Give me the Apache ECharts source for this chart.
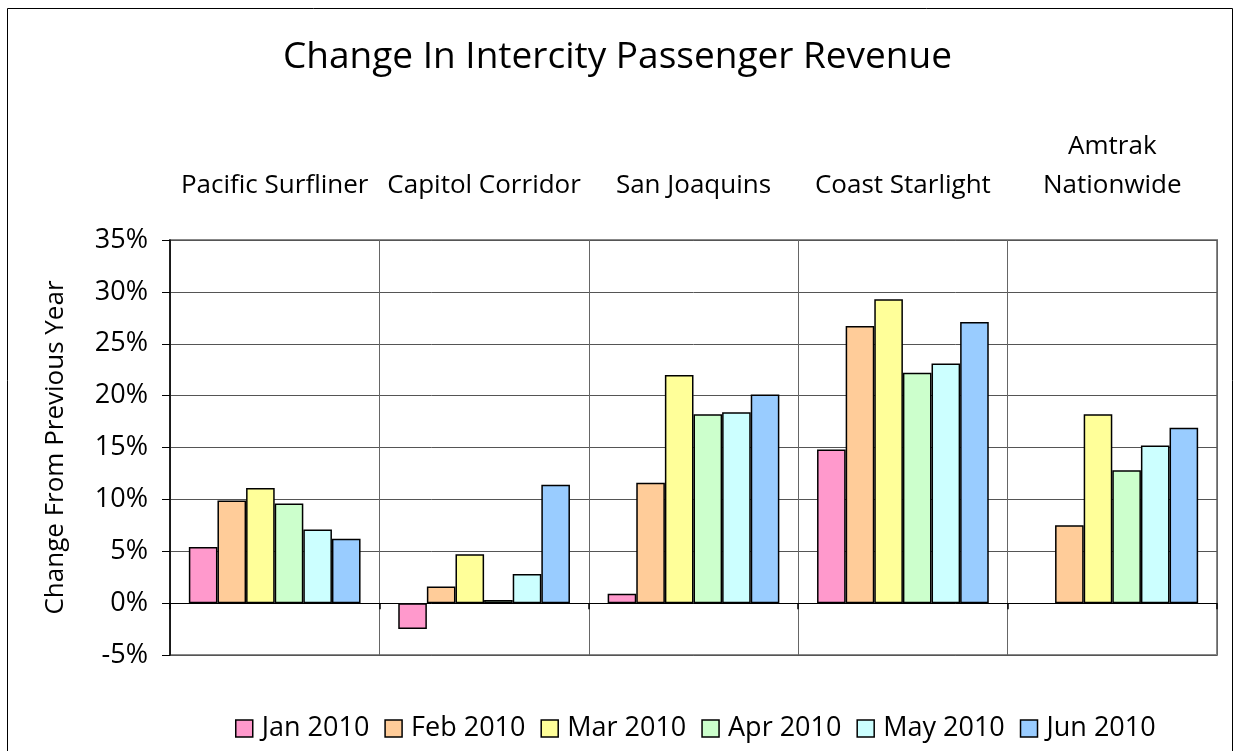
<!DOCTYPE html>
<html>
<head>
<meta charset="utf-8">
<script src="https://cdn.jsdelivr.net/npm/echarts@6/dist/echarts.min.js"></script>
<style>
  html, body { margin: 0; padding: 0; background: #fff; }
  #main { width: 1235px; height: 751px; }
</style>
</head>
<body>
<div id="main"></div>
<script>
// 数据
var categories = ['Pacific Surfliner', 'Capitol Corridor', 'San Joaquins', 'Coast Starlight', 'Amtrak\nNationwide'];
var months = ['Jan 2010', 'Feb 2010', 'Mar 2010', 'Apr 2010', 'May 2010', 'Jun 2010'];
var jan2010 = [5.4, -2.5, 0.9, 14.8, null];
var feb2010 = [9.9, 1.6, 11.6, 26.7, 7.5];
var mar2010 = [11.1, 4.7, 22.0, 29.3, 18.2];
var apr2010 = [9.6, 0.3, 18.2, 22.2, 12.8];
var may2010 = [7.1, 2.8, 18.4, 23.1, 15.2];
var jun2010 = [6.2, 11.4, 20.1, 27.1, 16.9];
var colors = ['#FF99CC', '#FFCC99', '#FFFF99', '#CCFFCC', '#CCFFFF', '#99CCFF'];

var font = 'Open Sans';
var myChart = echarts.init(document.getElementById('main'));

var seriesData = [jan2010, feb2010, mar2010, apr2010, may2010, jun2010];
var series = [];
for (var i = 0; i < months.length; i++) {
    series.push({
        name: months[i],
        type: 'bar',
        data: seriesData[i],
        barGap: '0%',
        barCategoryGap: '18%',
        itemStyle: { color: colors[i], borderColor: '#000', borderWidth: 1.5 }
    });
}

var option = {
    animation: false,
    color: colors,
    graphic: [{
        type: 'rect',
        shape: { x: 7.5, y: 8.5, width: 1225, height: 800 },
        style: { fill: 'none', stroke: '#000', lineWidth: 1 },
        silent: true
    }, {
        // 绘图区外框
        type: 'rect',
        shape: { x: 170, y: 240, width: 1047, height: 415 },
        style: { fill: 'none', stroke: '#888', lineWidth: 2 },
        silent: true,
        z: -1
    }],
    title: {
        text: 'Change In Intercity Passenger Revenue',
        left: 'center',
        top: 34,
        textStyle: { fontFamily: font, fontSize: 37, fontWeight: 'normal', color: '#000' }
    },
    legend: {
        data: months,
        bottom: 4,
        left: 230,
        icon: 'rect',
        itemWidth: 17,
        itemHeight: 17,
        itemGap: 15,
        itemStyle: { borderColor: '#000', borderWidth: 1.5 },
        textStyle: { fontFamily: font, fontSize: 27, color: '#000', padding: [0, 0, 0, 4] }
    },
    grid: { left: 170, right: 18, top: 240, bottom: 96 },
    xAxis: [{
        type: 'category',
        data: categories,
        position: 'top',
        axisLine: { show: false, onZero: false },
        axisTick: { show: false },
        axisLabel: {
            interval: 0,
            fontFamily: font, fontSize: 26, color: '#000',
            margin: 35, lineHeight: 39, verticalAlign: 'bottom'
        },
        splitLine: { show: true, interval: 0, lineStyle: { color: '#666', width: 1 } }
    }, {
        // 0% 处的横轴线
        type: 'category',
        data: categories,
        position: 'bottom',
        axisLine: { onZero: true, onZeroAxisIndex: 0, lineStyle: { color: '#000', width: 1 } },
        axisTick: { show: true, interval: 0, length: 6, lineStyle: { color: '#000', width: 1.5 } },
        axisLabel: { show: false },
        splitLine: { show: false }
    }],
    yAxis: {
        type: 'value',
        min: -5,
        max: 35,
        interval: 5,
        name: 'Change From Previous Year',
        nameLocation: 'middle',
        nameGap: 101,
        nameTextStyle: { fontFamily: font, fontSize: 26, color: '#000' },
        axisLine: { show: true, onZero: false, lineStyle: { color: '#000', width: 1.5 } },
        axisTick: { show: true, length: 8, lineStyle: { color: '#000' } },
        axisLabel: { formatter: '{value}%', fontFamily: font, fontSize: 27, color: '#000', margin: 22 },
        splitLine: { show: true, lineStyle: { color: '#555', width: 1 } }
    },
    series: series
};

myChart.setOption(option);
</script>
</body>
</html>
